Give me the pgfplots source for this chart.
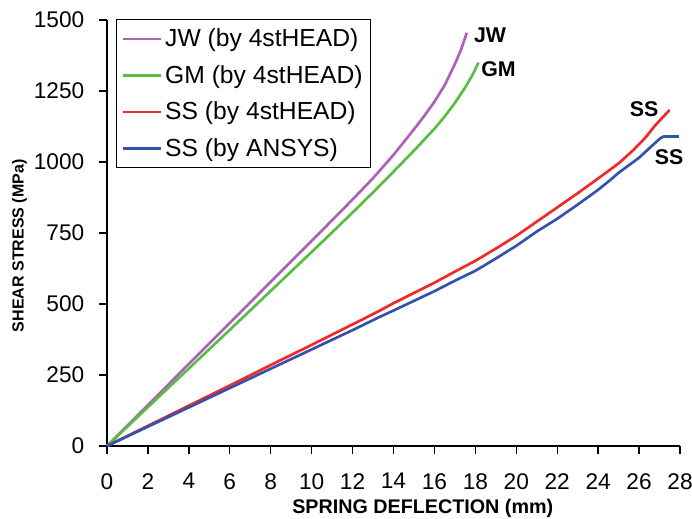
\documentclass[border=0pt]{standalone}
\usepackage{fontspec}
\setmainfont{Liberation Sans}
\usepackage{pgfplots}
\pgfplotsset{compat=1.18}
\usetikzlibrary{calc}

\definecolor{jwpurple}{RGB}{176,96,186}
\definecolor{gmgreen}{RGB}{88,190,64}
\definecolor{ssred}{RGB}{238,42,42}
\definecolor{ansysblue}{RGB}{52,82,172}

\begin{document}
\begin{tikzpicture}
\begin{axis}[
    scale only axis,
    width=429.75pt,
    height=319.5pt,
    xmin=0, xmax=28,
    ymin=0, ymax=1500,
    xtick={0,2,...,28},
    ytick={0,250,...,1500},
    axis lines=left,
    axis line style={-, line width=1pt},
    tick align=outside,
    major tick length=6pt,
    tick style={black, line width=1pt},
    /pgf/number format/assume math mode=true,
    /pgf/number format/1000 sep={},
    tick label style={font=\fontsize{17}{19}\selectfont},
    xticklabel shift=11pt,
    yticklabel shift=7.5pt,
    xlabel={SPRING DEFLECTION (mm)},
    ylabel={SHEAR STRESS (MPa)},
    xlabel style={at={(axis description cs:0.551,-0.146)}, anchor=center,
        font=\bfseries\fontsize{14.8}{17}\selectfont},
    ylabel style={at={(axis description cs:-0.1527,0.47)}, anchor=center,
        font=\bfseries\fontsize{12}{14}\selectfont},
    legend style={at={(0.0157,1.002)}, anchor=north west, draw=black, line width=0.8pt,
        font=\fontsize{18.5}{21}\selectfont, row sep=8.5pt,
        inner xsep=4pt, inner ysep=5pt, nodes={inner sep=2pt}},
    legend cell align=left,
    legend image code/.code={\draw[#1, line width=2pt] (0pt,0pt) -- (28.5pt,0pt);},
    every axis plot/.append style={line width=2pt, line join=round},
    clip=false
]

% JW (by 4stHEAD)
\addplot[jwpurple] coordinates {
(0,0) (2,144) (4,289) (6,433) (8,578) (10,722) (11,795) (12,868) (13,943)
(14,1025) (14.5,1070) (15,1115) (15.5,1162) (16,1212) (16.5,1270) (17,1345)
(17.3,1395) (17.58,1455)
};
\addlegendentry{JW (by 4stHEAD)}

% GM (by 4stHEAD)
\addplot[gmgreen] coordinates {
(0,0) (2,137) (4,273) (6,409) (8,546) (10,683) (11,752) (12,822) (13,893)
(14,966) (15,1040) (16,1117) (16.5,1160) (17,1208) (17.5,1262) (17.9,1312)
(18.15,1350)
};
\addlegendentry{GM (by 4stHEAD)}

% SS (by 4stHEAD)
\addplot[ssred] coordinates {
(0,0) (2,71) (4,142) (6,213) (8,285) (10,356) (12,428) (13.34,477) (14,503)
(15,539) (16,575) (17,614) (18,652) (19,695) (20,740) (21,790) (22,840)
(23,890) (24,942) (25,995) (25.72,1042) (26.3,1085) (26.8,1130) (27.49,1183)
};
\addlegendentry{SS (by 4stHEAD)}

% SS (by ANSYS)
\addplot[ansysblue] coordinates {
(0,0) (2,68) (4,136) (6,204) (8,272) (10,340) (12,408) (13.34,455) (14,477)
(15,511) (16,545) (17,582) (18,617) (19,660) (20,705) (21,755) (22,800)
(23,850) (24,902) (24.6,937) (25,962) (26,1015) (26.6,1055) (27.03,1083)
(27.2,1090) (27.95,1090)
};
\addlegendentry{SS (by ANSYS)}

\node[font=\bfseries\fontsize{16}{18}\selectfont] at (axis cs:18.72,1447) {JW};
\node[font=\bfseries\fontsize{16}{18}\selectfont] at (axis cs:19.13,1326) {GM};
\node[font=\bfseries\fontsize{16}{18}\selectfont] at (axis cs:26.25,1185) {SS};
\node[font=\bfseries\fontsize{16}{18}\selectfont] at (axis cs:27.47,1016) {SS};

\coordinate (ll) at (rel axis cs:0,0);
\coordinate (ur) at (rel axis cs:1,1);
\end{axis}
\pgfresetboundingbox
\path[use as bounding box] ($(ll)+(-80.25pt,-54.75pt)$) rectangle ($(ur)+(9pt,15pt)$);
\end{tikzpicture}
\end{document}
